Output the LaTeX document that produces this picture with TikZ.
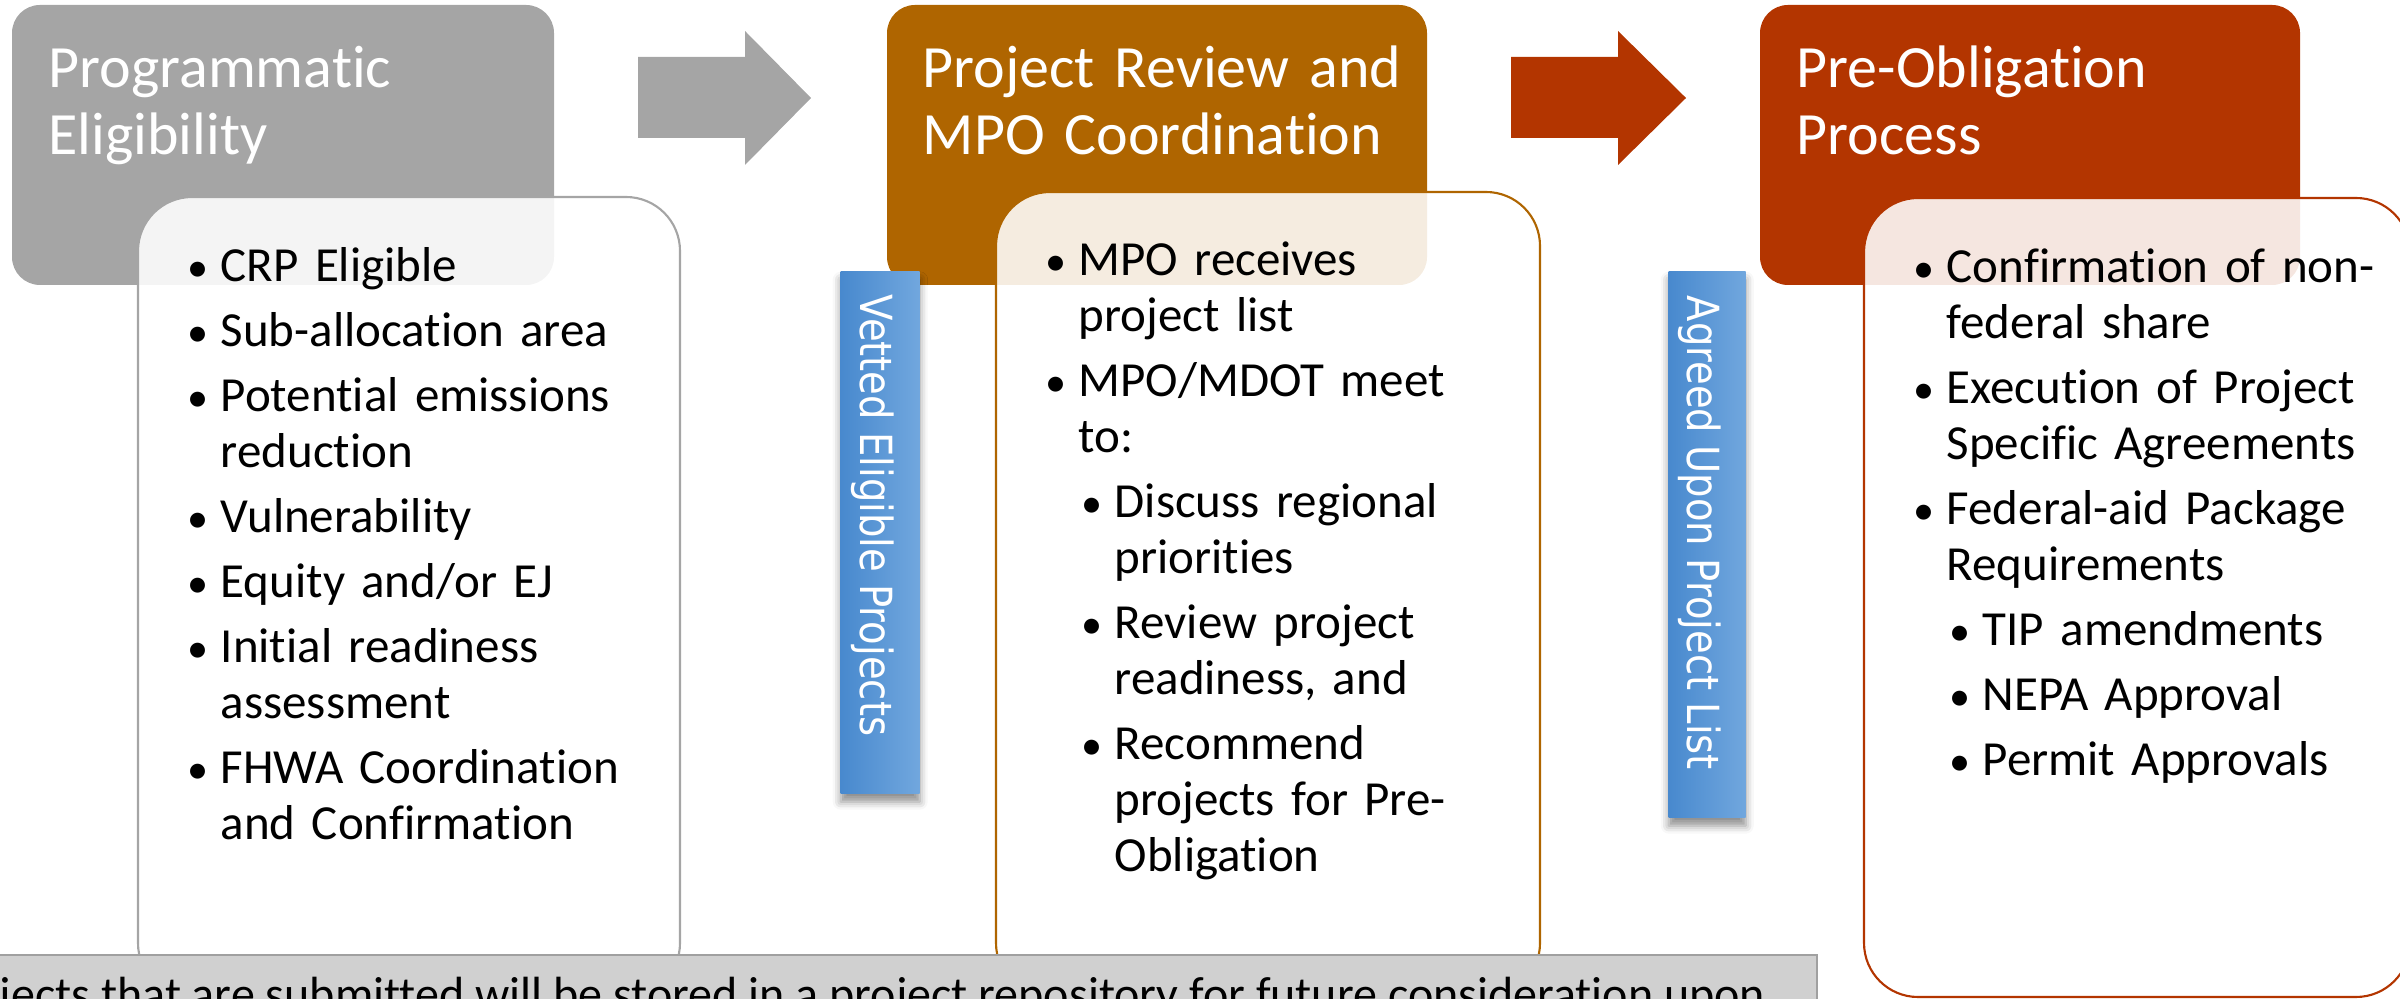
\documentclass[tikz,border=0pt]{standalone}
\usepackage{fontspec}
\setmainfont{Carlito}[Ligatures=NoCommon]
\newfontfamily\barfont[FakeStretch=0.87]{DejaVu Sans}
\usetikzlibrary{shadows.blur}

\definecolor{stepgray}{RGB}{165,165,165}
\definecolor{stepbrown}{RGB}{175,101,0}
\definecolor{stepred}{RGB}{179,53,0}
\definecolor{barleft}{RGB}{72,137,206}
\definecolor{barright}{RGB}{113,167,222}
\definecolor{notegray}{RGB}{208,208,208}
\definecolor{noteline}{RGB}{160,160,160}

\newlength{\bind}
\setlength{\bind}{3.3mm}
\newcommand{\nl}{\hfil\break}
\newcommand{\bdot}{{\fontsize{12pt}{12pt}\selectfont\textbullet}}
\newcommand{\bitem}[1]{\hangindent=\bind\hangafter=1\makebox[\bind][l]{\bdot}#1\par}
\newcommand{\bsubitem}[1]{\leavevmode\hangindent=6.9mm\hangafter=1\hspace*{3.6mm}\makebox[\bind][l]{\bdot}#1\par}

\tikzset{
  headbox/.style={rounded corners=2.8mm},
  bodybox/.style={rounded corners=5.4mm, fill=white, fill opacity=0.88, line width=0.6pt},
  headtext/.style={inner sep=0, anchor=base west, text width=52mm, align=left, text=white,
    font=\fontsize{17.07pt}{19.06pt}\selectfont},
  bodytext/.style={inner sep=0, anchor=base west, text width=50mm,
    font=\fontsize{13.94pt}{15.93pt}\selectfont,
    execute at begin node={\setlength{\parskip}{2.56pt}}},
  bar/.style={inner sep=0, anchor=north west, left color=barleft, right color=barright,
    blur shadow={shadow xshift=0mm, shadow yshift=-0.8mm, shadow blur radius=0.8mm, shadow opacity=45}},
  bartext/.style={inner sep=0, anchor=base west, rotate=-90, text=white,
    font=\barfont\fontsize{12.6pt}{15pt}\selectfont},
  notetext/.style={inner sep=0, anchor=base west, font=\fontsize{13.66pt}{16pt}\selectfont},
}

\begin{document}
\begin{tikzpicture}[x=0.1mm,y=-0.1mm]
  \useasboundingbox (0,0) rectangle (2400,999);
  \clip (0,0) rectangle (2400,999);

  % the three step headers
  \fill [stepgray, headbox] (12,5) rectangle (554,285);
  \fill [stepbrown, headbox] (887,5) rectangle (1427,285);
  \fill [stepred, headbox] (1760,5) rectangle (2300,285);

  \node (graytitle) [headtext] at (48,88) {Programmatic\\Eligibility};
  \node (browntitle) [headtext] at (922,88) {Project Review and\\MPO Coordination};
  \node (redtitle) [headtext] at (1796,88) {Pre-Obligation\\Process};

  % the lists under them
  \draw [bodybox, draw=stepgray] (138,197) rectangle (680,997);
  \draw [bodybox, draw=stepbrown] (996,192) rectangle (1540,997);
  \draw [bodybox, draw=stepred] (1864,198) rectangle (2410,997);

  \node (grayitems) [bodytext] at (187,282) {%
    \bitem{CRP Eligible}
    \bitem{Sub-allocation area}
    \bitem{Potential emissions\nl reduction}
    \bitem{Vulnerability}
    \bitem{Equity and/or EJ}
    \bitem{Initial readiness\nl assessment}
    \bitem{FHWA Coordination\nl and Confirmation}};

  \node (brownitems) [bodytext] at (1045,276) {%
    \bitem{MPO receives\nl project list}
    \bitem{MPO/MDOT meet\nl to:}
    \bsubitem{Discuss regional\nl priorities}
    \bsubitem{Review project\nl readiness, and}
    \bsubitem{Recommend\nl projects for Pre-\nl Obligation}};

  \node (reditems) [bodytext] at (1913,283) {%
    \bitem{Confirmation of non-\nl federal share}
    \bitem{Execution of Project\nl Specific Agreements}
    \bitem{Federal-aid Package\nl Requirements}
    \bsubitem{TIP amendments}
    \bsubitem{NEPA Approval}
    \bsubitem{Permit Approvals}};

  % hand-over bars
  \node (vettedbar) [bar, minimum width=7.9mm, minimum height=52.2mm] at (840,271) {};
  \node (agreedbar) [bar, minimum width=7.7mm, minimum height=54.6mm] at (1668,271) {};
  \node (vettedtext) [bartext] at (860,294) {Vetted Eligible Projects};
  \node (agreedtext) [bartext] at (1687,295) {Agreed Upon Project List};

  % block arrows
  \fill [stepgray] (638,57) -- (745,57) -- (745,31) -- (811,98) -- (745,165) -- (745,138) -- (638,138) -- cycle;
  \fill [stepred] (1511,57) -- (1618,57) -- (1618,31) -- (1686,98) -- (1618,165) -- (1618,138) -- (1511,138) -- cycle;

  \draw [fill=notegray, draw=noteline, line width=0.6pt] (-5,955) rectangle (1817,1040);
  \node (note) [notetext] at (-67,1010) {Projects that are submitted will be stored in a project repository for future consideration upon};
\end{tikzpicture}
\end{document}
